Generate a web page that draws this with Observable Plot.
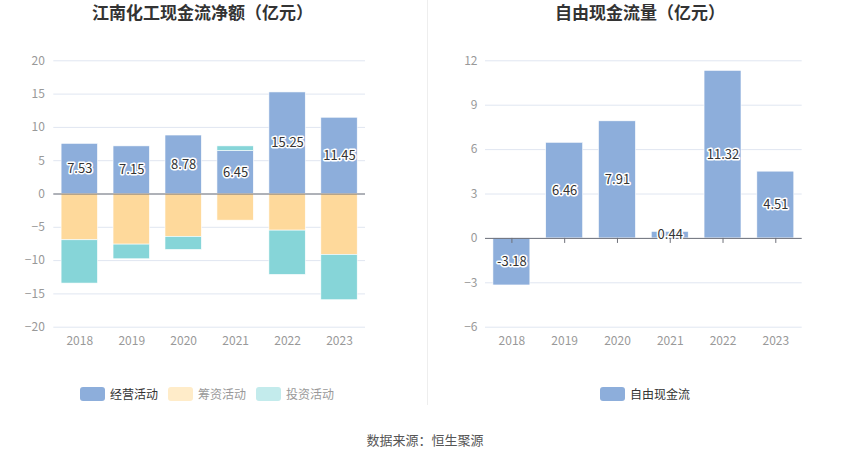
<!DOCTYPE html>
<html>
<head>
<meta charset="utf-8">
<script src="https://cdn.jsdelivr.net/npm/d3@7"></script>
<script src="https://cdn.jsdelivr.net/npm/@observablehq/plot@0.6"></script>
<style>
  html, body { margin: 0; padding: 0; background: #fff; }
  #wrap { position: relative; width: 850px; height: 458px; font-family: "Noto Sans CJK SC", "Noto Sans", sans-serif; overflow: hidden; }
  .title { position: absolute; top: -1px; font-size: 17px; font-weight: bold; color: #333; text-align: center; white-space: nowrap; }
  .chart { position: absolute; top: 0; }
  .divider { position: absolute; left: 427px; top: 0; width: 1px; height: 405px; background: #eeeeee; }
  .legend { position: absolute; top: 385px; display: flex; align-items: center; font-size: 12px; white-space: nowrap; }
  .legend .item { display: flex; align-items: center; margin-right: 10px; }
  .legend .sw { width: 25px; height: 14px; border-radius: 3px; margin-right: 5px; }
  .source { position: absolute; top: 430px; left: 0; width: 850px; text-align: center; font-size: 13px; color: #555; }
</style>
</head>
<body>
<div id="wrap">
  <div class="divider"></div>
  <div class="title" id="t1" style="left:0; width:405px;"></div>
  <div class="title" id="t2" style="left:425px; width:430px;"></div>
  <div class="chart" id="c1" style="left:0;"></div>
  <div class="chart" id="c2" style="left:425px;"></div>
  <div class="legend" id="lg1" style="left:80px;"></div>
  <div class="legend" id="lg2" style="left:600px;"></div>
  <div class="source" id="src"></div>
</div>
<script>
// ---- data ----
const years = ["2018", "2019", "2020", "2021", "2022", "2023"];
const seriesNames = ["经营活动", "筹资活动", "投资活动"];
const operating = [7.53, 7.15, 8.78, 6.45, 15.25, 11.45];
const financing = [-6.95, -7.6, -6.45, -4.0, -5.5, -9.15];
const investing = [-6.5, -2.2, -1.95, 0.7, -6.65, -6.8];
const fcfName = "自由现金流";
const fcf = [-3.18, 6.46, 7.91, 0.44, 11.32, 4.51];
const leftTicks = [-20, -15, -10, -5, 0, 5, 10, 15, 20];
const rightTicks = [-6, -3, 0, 3, 6, 9, 12];
const title1 = "江南化工现金流净额（亿元）";
const title2 = "自由现金流量（亿元）";
const sourceText = "数据来源：恒生聚源";

// ---- styles ----
const colors = ["#8daedb", "#fed99b", "#86d5d8"];
const legendColors = ["#8daedb", "#ffecc9", "#c3ebec"];
const legendText = ["#333", "#999", "#999"];
const font = '"Noto Sans CJK SC", "Noto Sans", sans-serif';

document.getElementById("t1").textContent = title1;
document.getElementById("t2").textContent = title2;
document.getElementById("src").textContent = sourceText;

// stacked rows
const rows = [];
years.forEach((y, i) => {
  rows.push({year: y, series: seriesNames[0], value: operating[i]});
  rows.push({year: y, series: seriesNames[1], value: financing[i]});
  rows.push({year: y, series: seriesNames[2], value: investing[i]});
});
const opRows = years.map((y, i) => ({year: y, value: operating[i]}));
const fcfRows = years.map((y, i) => ({year: y, value: fcf[i]}));

const common = {
  width: 425, height: 355,
  marginTop: 60.3, marginBottom: 28.3,
  style: {fontFamily: font, fontSize: "12px", color: "#999", background: "transparent", overflow: "visible"}
};

const chart1 = Plot.plot({
  ...common,
  marginLeft: 53.3, marginRight: 60,
  x: {domain: years, paddingInner: 0.3, paddingOuter: 0.15, round: false, label: null},
  y: {domain: [-20, 20], label: null},
  color: {domain: seriesNames, range: colors},
  marks: [
    Plot.gridY(leftTicks, {stroke: "#e0e6f1", strokeOpacity: 1}),
    Plot.axisY(leftTicks, {tickSize: 0, tickPadding: 9, label: null, fill: "#999"}),
    Plot.axisX({tickSize: 0, tickPadding: 9, label: null, fill: "#999"}),
    Plot.barY(rows, {x: "year", y: "value", fill: "series", order: null, stroke: "white", strokeWidth: 0.6}),
    Plot.ruleY([0], {stroke: "#6e7079", strokeWidth: 1}),
    Plot.text(opRows, {x: "year", y: d => d.value / 2, text: d => d.value.toFixed(2),
      fill: "#333", stroke: "white", strokeWidth: 3, fontSize: 13, fontFamily: font})
  ]
});
document.getElementById("c1").appendChild(chart1);

const chart2 = Plot.plot({
  ...common,
  marginLeft: 60, marginRight: 48.3,
  x: {domain: years, paddingInner: 0.3, paddingOuter: 0.15, round: false, label: null},
  y: {domain: [-6, 12], label: null},
  marks: [
    Plot.gridY(rightTicks, {stroke: "#e0e6f1", strokeOpacity: 1}),
    Plot.axisY(rightTicks, {tickSize: 0, tickPadding: 8, label: null, fill: "#999"}),
    Plot.axisX({tickSize: 0, tickPadding: 9, label: null, fill: "#999"}),
    Plot.barY(fcfRows, {x: "year", y: "value", fill: colors[0], stroke: "white", strokeWidth: 0.6}),
    Plot.ruleY([0], {stroke: "#6e7079", strokeWidth: 1}),
    Plot.ruleX(years, {x: d => d, y1: 0, y2: -0.34, stroke: "#6e7079", strokeWidth: 1}),
    Plot.text(fcfRows, {x: "year", y: d => d.value / 2, text: d => d.value.toFixed(2),
      fill: "#333", stroke: "white", strokeWidth: 3, fontSize: 13, fontFamily: font})
  ]
});
document.getElementById("c2").appendChild(chart2);

// legends
function legend(el, names, cols, txt) {
  names.forEach((n, i) => {
    const it = document.createElement("div");
    it.className = "item";
    const sw = document.createElement("div");
    sw.className = "sw";
    sw.style.background = cols[i];
    const t = document.createElement("span");
    t.textContent = n;
    t.style.color = txt[i];
    it.appendChild(sw); it.appendChild(t);
    el.appendChild(it);
  });
}
legend(document.getElementById("lg1"), seriesNames, legendColors, legendText);
legend(document.getElementById("lg2"), [fcfName], [colors[0]], ["#333"]);
</script>
</body>
</html>
